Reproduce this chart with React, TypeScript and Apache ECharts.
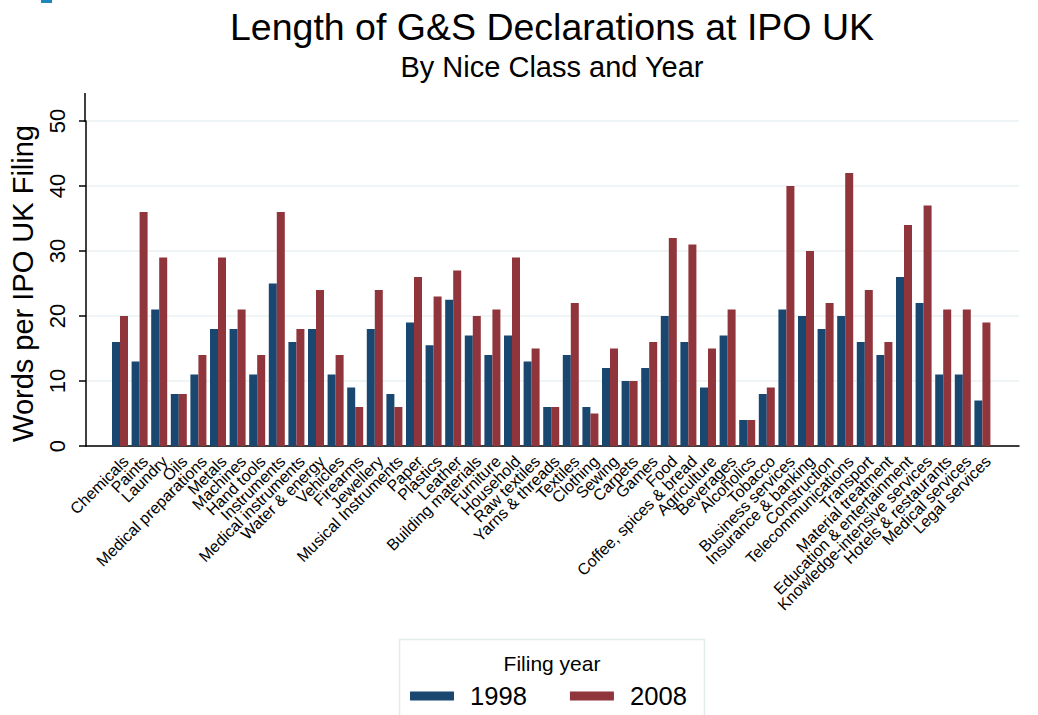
import React, { useEffect, useRef } from "react";
import * as echarts from "echarts";

const categories = [
  "Chemicals", "Paints", "Laundry", "Oils", "Medical preparations", "Metals",
  "Machines", "Hand tools", "Instruments", "Medical instruments", "Water & energy",
  "Vehicles", "Firearms", "Jewellery", "Musical Instruments", "Paper", "Plastics",
  "Leather", "Building materials", "Furniture", "Household", "Raw textiles",
  "Yarns & threads", "Textiles", "Clothing", "Sewing", "Carpets", "Games", "Food",
  "Coffee, spices & bread", "Agriculture", "Beverages", "Alcoholics", "Tobacco",
  "Business services", "Insurance & banking", "Construction", "Telecommunications",
  "Transport", "Material treatment", "Education & entertainment",
  "Knowledge-intensive services", "Hotels & restaurants", "Medical services",
  "Legal services",
];

const values1998 = [
  16, 13, 21, 8, 11, 18, 18, 11, 25, 16, 18, 11, 9, 18, 8, 19, 15.5, 22.5, 17, 14,
  17, 13, 6, 14, 6, 12, 10, 12, 20, 16, 9, 17, 4, 8, 21, 20, 18, 20, 16, 14, 26, 22,
  11, 11, 7,
];

const values2008 = [
  20, 36, 29, 8, 14, 29, 21, 14, 36, 18, 24, 14, 6, 24, 6, 26, 23, 27, 20, 21, 29,
  15, 6, 22, 5, 15, 10, 16, 32, 31, 15, 21, 4, 9, 40, 30, 22, 42, 24, 16, 34, 37, 21,
  21, 19,
];

const seriesNames = ["1998", "2008"];
const yMin = 0;
const yMax = 50;
const yInterval = 10;

const FONT = "'Liberation Sans', Arial, Helvetica, sans-serif";

export default function App() {
  const ref = useRef<HTMLDivElement>(null);
  useEffect(() => {
    if (!ref.current) return;
    const chart = echarts.init(ref.current, null, { renderer: "svg" });
    chart.setOption({
      animation: false,
      backgroundColor: "#ffffff",
      textStyle: { fontFamily: FONT, color: "#000" },
      grid: [
        { left: 85, right: 19, top: 121, bottom: 269 },
        { left: 110.2, width: 882, top: 121, bottom: 269 },
      ],
      xAxis: [
        {
          gridIndex: 0,
          type: "value",
          min: 0,
          max: 1,
          axisLine: { show: true, onZero: false, lineStyle: { color: "#000", width: 1.5 } },
          axisTick: { show: false },
          axisLabel: { show: false },
          splitLine: { show: false },
        },
        {
          gridIndex: 1,
          type: "category",
          data: categories,
          axisLine: { show: false },
          axisTick: { show: false },
          splitLine: { show: false },
          axisLabel: {
            interval: 0,
            rotate: 45,
            fontSize: 16,
            color: "#000",
            margin: 7,
            align: "right",
            verticalAlign: "top",
            fontFamily: FONT,
          },
        },
      ],
      yAxis: [
        {
          gridIndex: 0,
          type: "value",
          min: yMin,
          max: yMax,
          interval: yInterval,
          name: "Words per IPO UK Filing",
          nameLocation: "middle",
          nameGap: 49,
          nameTextStyle: { fontSize: 29, color: "#000", fontFamily: FONT },
          axisLine: { show: true, lineStyle: { color: "#000", width: 1.5 } },
          axisTick: { show: true, length: 7, lineStyle: { color: "#000", width: 1.5 } },
          axisLabel: {
            rotate: 90,
            fontSize: 22,
            color: "#000",
            margin: 18,
            align: "center",
            verticalAlign: "bottom",
            fontFamily: FONT,
          },
          splitLine: { show: true, lineStyle: { color: "#eaf2f3", width: 1.5 } },
        },
        {
          gridIndex: 1,
          type: "value",
          min: yMin,
          max: yMax,
          show: false,
          splitLine: { show: false },
        },
      ],
      legend: {
        data: seriesNames,
        left: 410,
        top: 683,
        padding: 0,
        icon: "rect",
        itemWidth: 44,
        itemHeight: 9,
        itemGap: 43,
        textStyle: { fontSize: 25.6, color: "#000", fontFamily: FONT, padding: [0, 0, 0, 11] },
      },
      series: [
        {
          type: "bar",
          name: seriesNames[0],
          xAxisIndex: 1,
          yAxisIndex: 1,
          data: values1998,
          barWidth: 8,
          barGap: "0%",
          itemStyle: { color: "#1a476f" },
        },
        {
          type: "bar",
          name: seriesNames[1],
          xAxisIndex: 1,
          yAxisIndex: 1,
          data: values2008,
          barWidth: 8,
          barGap: "0%",
          itemStyle: { color: "#90353b" },
        },
      ],
      graphic: [
        {
          type: "rect",
          shape: { x: 41, y: 0, width: 11, height: 3 },
          style: { fill: "#1c86bd" },
        },
        {
          type: "line",
          shape: { x1: 85, y1: 93, x2: 85, y2: 122 },
          style: { stroke: "#000", lineWidth: 1.5 },
        },
        {
          type: "text",
          x: 552,
          y: 27,
          style: {
            text: "Length of G&S Declarations at IPO UK",
            fontSize: 37.5,
            fontFamily: FONT,
            fill: "#000",
            textAlign: "center",
            align: "center",
            textVerticalAlign: "middle",
            verticalAlign: "middle",
          },
        },
        {
          type: "text",
          x: 552,
          y: 66.5,
          style: {
            text: "By Nice Class and Year",
            fontSize: 29,
            fontFamily: FONT,
            fill: "#000",
            textAlign: "center",
            align: "center",
            textVerticalAlign: "middle",
            verticalAlign: "middle",
          },
        },
        {
          type: "rect",
          z: -1,
          shape: { x: 399.5, y: 639.5, width: 305, height: 100 },
          style: { fill: "#fff", stroke: "#e3ebec", lineWidth: 1.5 },
        },
        {
          type: "text",
          x: 552,
          y: 663,
          style: {
            text: "Filing year",
            fontSize: 21,
            fontFamily: FONT,
            fill: "#000",
            textAlign: "center",
            align: "center",
            textVerticalAlign: "middle",
            verticalAlign: "middle",
          },
        },
      ],
    });
    return () => chart.dispose();
  }, []);
  return (
    <div
      ref={ref}
      style={{ position: "absolute", left: 0, top: 0, width: 1038, height: 715 }}
    />
  );
}
